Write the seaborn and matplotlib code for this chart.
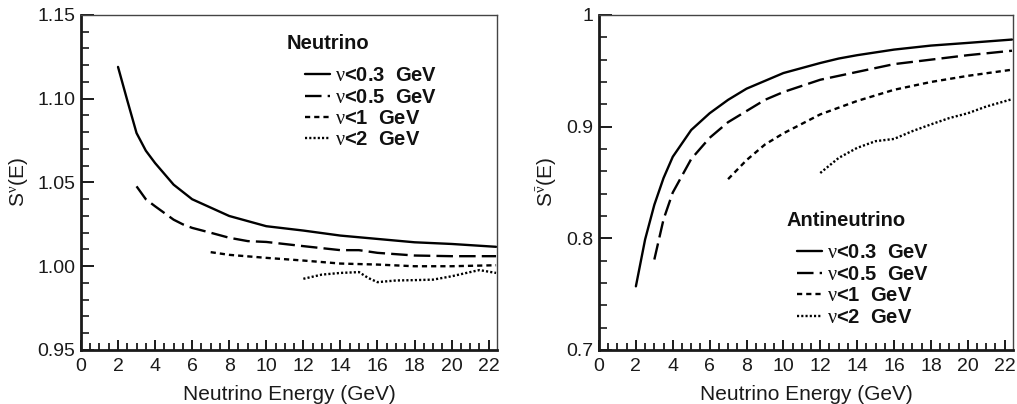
import numpy as np
import pandas as pd
import matplotlib
matplotlib.use("Agg")
import matplotlib.pyplot as plt
import seaborn as sns
from matplotlib.ticker import MultipleLocator
from matplotlib.lines import Line2D

# ---------------- data ----------------
labels = [r"$\mathrm{\nu}$<0.3  GeV", r"$\mathrm{\nu}$<0.5  GeV",
          r"$\mathrm{\nu}$<1  GeV", r"$\mathrm{\nu}$<2  GeV"]

# Neutrino panel
nu_x_03 = [2, 2.5, 3, 3.5, 4, 5, 6, 7, 8, 10, 12, 14, 16, 18, 20, 22.4]
nu_y_03 = [1.119, 1.099, 1.0795, 1.069, 1.0616, 1.0487, 1.040, 1.035, 1.030, 1.0239, 1.0213, 1.0183, 1.0163, 1.0143, 1.0133, 1.0116]
nu_x_05 = [3, 3.5, 4, 5, 5.5, 6, 7, 8, 9, 10, 12, 14, 15, 16, 18, 20, 22.4]
nu_y_05 = [1.0477, 1.040, 1.0358, 1.0278, 1.025, 1.0229, 1.020, 1.017, 1.015, 1.0145, 1.012, 1.0096, 1.0096, 1.008, 1.0064, 1.006, 1.006]
nu_x_1 = [7, 8, 10, 12, 14, 16, 18, 20, 22.4]
nu_y_1 = [1.0084, 1.0068, 1.005, 1.0034, 1.0016, 1.001, 1.000, 1.000, 1.0006]
nu_x_2 = [12, 13, 14, 15, 15.5, 16, 17, 18, 19, 20, 21, 21.5, 22.4]
nu_y_2 = [0.9925, 0.995, 0.996, 0.9965, 0.993, 0.9905, 0.9915, 0.9917, 0.992, 0.994, 0.9965, 0.9977, 0.996]

# Antineutrino panel
an_x_03 = [2, 2.5, 3, 3.5, 4, 5, 6, 7, 8, 9, 10, 12, 13, 14, 16, 18, 20, 22.4]
an_y_03 = [0.757, 0.799, 0.830, 0.854, 0.873, 0.897, 0.912, 0.924, 0.934, 0.941, 0.948, 0.957, 0.961, 0.964, 0.969, 0.9726, 0.975, 0.978]
an_x_05 = [3, 3.5, 4, 5, 6, 7, 8, 9, 10, 12, 14, 16, 18, 20, 22.4]
an_y_05 = [0.781, 0.817, 0.841, 0.871, 0.890, 0.904, 0.914, 0.924, 0.931, 0.942, 0.949, 0.956, 0.960, 0.964, 0.968]
an_x_1 = [7, 8, 9, 10, 12, 14, 16, 18, 20, 22.4]
an_y_1 = [0.853, 0.870, 0.884, 0.894, 0.911, 0.923, 0.933, 0.940, 0.9455, 0.951]
an_x_2 = [12, 13, 14, 15, 16, 17, 18, 19, 20, 21, 22.4]
an_y_2 = [0.8585, 0.872, 0.881, 0.887, 0.889, 0.896, 0.902, 0.9077, 0.912, 0.918, 0.9246]

left_yticks = [0.95, 1.00, 1.05, 1.10, 1.15]
left_yticklabels = ["0.95", "1.00", "1.05", "1.10", "1.15"]
right_yticks = [0.7, 0.8, 0.9, 1.0]
right_yticklabels = ["0.7", "0.8", "0.9", "1"]
xticks = list(range(0, 24, 2))
xminor = [v * 0.5 for v in range(0, 45) if v % 4 != 0]

# ---------------- style ----------------
sns.set_style("ticks")
plt.rcParams["font.family"] = ["Liberation Sans", "DejaVu Sans"]
plt.rcParams["mathtext.fontset"] = "custom"
plt.rcParams["mathtext.rm"] = "Liberation Serif"
plt.rcParams["mathtext.it"] = "Liberation Serif:italic"
plt.rcParams["mathtext.bf"] = "Liberation Serif:bold"

styles = [
    dict(linestyle="-"),
    dict(linestyle=(0, (7, 2.6))),
    dict(linestyle=(0, (2.2, 1.7))),
    dict(linestyle=(0, (0.9, 0.9))),
]
lw = 1.7
ink = "#1a1a1a"

fig = plt.figure(figsize=(10.17, 4.04), dpi=100)
axL = fig.add_axes([0.0796, 0.1337, 0.4091, 0.8292])
axR = fig.add_axes([0.5890, 0.1337, 0.4070, 0.8292])


def draw(ax, xs, ys):
    for i, (x, y) in enumerate(zip(xs, ys)):
        df = pd.DataFrame({"E": x, "S": y})
        sns.lineplot(data=df, x="E", y="S", ax=ax, color="black", lw=lw,
                     sort=False, **styles[i])


draw(axL, [nu_x_03, nu_x_05, nu_x_1, nu_x_2], [nu_y_03, nu_y_05, nu_y_1, nu_y_2])
draw(axR, [an_x_03, an_x_05, an_x_1, an_x_2], [an_y_03, an_y_05, an_y_1, an_y_2])


def style_axes(ax, ylim, yticks, yticklabels, yminor, ylabel):
    ax.set_xlim(0, 22.45)
    ax.set_ylim(*ylim)
    ax.set_xticks(xticks)
    ax.set_xticks(xminor, minor=True)
    ax.set_yticks(yticks)
    ax.set_yticklabels(yticklabels)
    ax.yaxis.set_minor_locator(MultipleLocator(yminor))
    ax.tick_params(axis="both", which="major", direction="in", length=9,
                   width=1.4, labelsize=14, color=ink, labelcolor=ink)
    ax.tick_params(axis="both", which="minor", direction="in", length=5.5,
                   width=1.2, color=ink)
    ax.tick_params(axis="x", which="major", length=7.5, pad=6)
    ax.tick_params(axis="x", which="minor", length=5, width=1.3,
                   bottom=True, top=False)
    ax.tick_params(axis="y", which="major", pad=4)
    for s in ["left", "bottom"]:
        ax.spines[s].set_linewidth(2.0)
        ax.spines[s].set_color(ink)
    for s in ["top", "right"]:
        ax.spines[s].set_visible(True)
        ax.spines[s].set_linewidth(1.0)
        ax.spines[s].set_color("#444444")
    ax.set_xlabel("Neutrino Energy (GeV)", fontsize=15, color=ink, labelpad=7)
    ax.set_ylabel(ylabel, fontsize=15, color=ink, labelpad=5)


style_axes(axL, (0.95, 1.15), left_yticks, left_yticklabels, 0.01, r"S$^{\mathrm{\nu}}$(E)")
style_axes(axR, (0.7, 1.0), right_yticks, right_yticklabels, 0.02, r"S$^{\bar{\mathrm{\nu}}}$(E)")


def add_legend(ax, title, leg_xy, title_xy):
    handles = [Line2D([0], [0], color="black", lw=lw, **styles[i]) for i in range(4)]
    leg = ax.legend(handles, labels, loc="upper left",
                    bbox_to_anchor=leg_xy, frameon=False, handlelength=1.25,
                    handletextpad=0.25, labelspacing=0.12, borderpad=0,
                    borderaxespad=0,
                    prop=dict(weight="bold", size=14.5))
    for t in leg.get_texts():
        t.set_color("#111111")
    ax.text(title_xy[0], title_xy[1], title, transform=ax.transAxes,
            fontsize=14.5, fontweight="bold", color="#111111",
            ha="left", va="center")
    return leg


add_legend(axL, "Neutrino", (0.538, 0.847), (0.495, 0.916))
add_legend(axR, "Antineutrino", (0.478, 0.318), (0.452, 0.388))

fig.savefig("out.png", dpi=100)
